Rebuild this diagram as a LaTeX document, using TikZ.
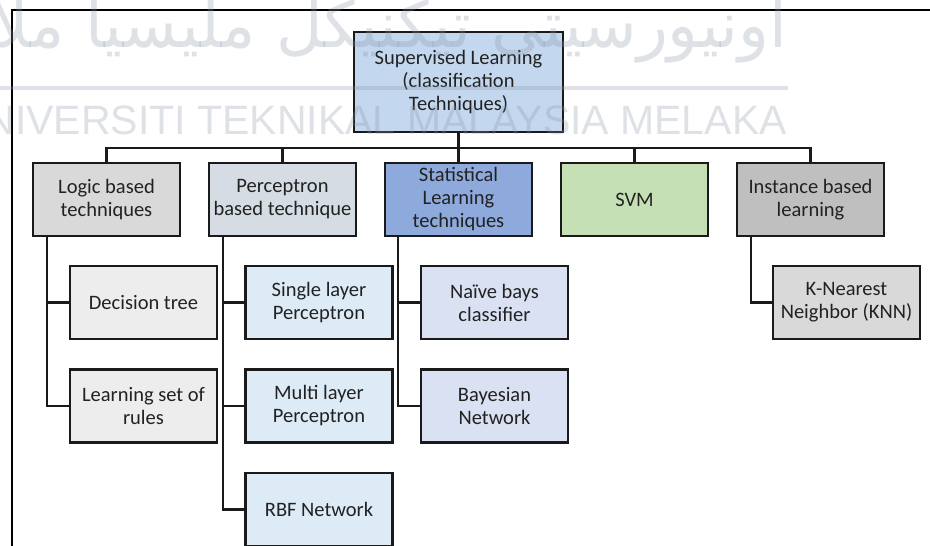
\documentclass[tikz,border=0pt]{standalone}
\usepackage{fontspec}
\setmainfont{Carlito}
\newfontfamily\arabicfont[Script=Arabic]{DejaVu Sans}
\newfontfamily\wmfont{Liberation Sans}
\TeXXeTstate=1
\usetikzlibrary{calc}
\definecolor{boxline}{HTML}{1A1A1A}
\definecolor{txt}{HTML}{222222}
\definecolor{rootfill}{HTML}{C3D7EE}
\definecolor{logicfill}{HTML}{D9D9D9}
\definecolor{percfill}{HTML}{D6DCE4}
\definecolor{statfill}{HTML}{8EA9DB}
\definecolor{svmfill}{HTML}{C5E0B4}
\definecolor{instfill}{HTML}{BFBFBF}
\definecolor{lgchild}{HTML}{EDEDED}
\definecolor{pcchild}{HTML}{DDEBF7}
\definecolor{stchild}{HTML}{D9E1F2}
\definecolor{knnfill}{HTML}{D9D9D9}
\definecolor{wmgray}{HTML}{8C94A8}
\begin{document}
\begin{tikzpicture}[x=1pt,y=-1pt,
  box/.style={draw=boxline, line width=2.4pt, minimum width=147pt, minimum height=73pt,
    inner sep=0pt, align=center, text=txt, font=\fontsize{20.5}{23}\selectfont},
  link/.style={draw=boxline, line width=2.4pt, line join=miter},
  wmtext/.style={text=wmgray, text opacity=0.28, inner sep=0pt},
  wmline/.style={draw=wmgray, draw opacity=0.28, line width=4pt}]
\useasboundingbox (0,0) rectangle (930,546);
\clip (0,0) rectangle (930,546);
\fill[white] (0,0) rectangle (930,546);
% frame
\draw[line width=1.3pt, black] (12,546) -- (12,10) -- (930,10);
% root
\node[box, fill=rootfill, minimum width=209pt, minimum height=100pt] (root) at (458.5,82)
  {Supervised Learning\\(classification\\Techniques)};
% level 1
\node[box, fill=logicfill] (logic) at (106.5,199.5) {Logic based\\techniques};
\node[box, fill=percfill]  (perc)  at (282.5,199.5) {Perceptron\\based technique};
\node[box, fill=statfill]  (stat)  at (458.5,199.5) {Statistical\\Learning\\techniques};
\node[box, fill=svmfill]   (svm)   at (634.5,199.5) {SVM};
\node[box, fill=instfill]  (inst)  at (810.5,199.5) {Instance based\\learning};
% level 2
\node[box, fill=lgchild] (dt)    at (143.5,302.5) {Decision tree};
\node[box, fill=lgchild] (learn) at (143.5,406)   {Learning set of\\rules};
\node[box, fill=pcchild] (slp)   at (319,302.5)   {Single layer\\Perceptron};
\node[box, fill=pcchild] (mlp)   at (319,406)     {Multi layer\\Perceptron};
\node[box, fill=pcchild] (rbf)   at (319,509.5)   {RBF Network};
\node[box, fill=stchild] (nb)    at (494.5,302.5) {Naïve bays\\classifier};
\node[box, fill=stchild] (bn)    at (494.5,406)   {Bayesian\\Network};
\node[box, fill=knnfill] (knn)   at (846.5,302.5) {K-Nearest\\Neighbor (KNN)};
% bus
\coordinate (bus) at (0,148);
\draw[link] (root.south) -- (root.south |- bus);
\draw[link] (logic.north) -- (logic.north |- bus) -- (inst.north |- bus) -- (inst.north);
\draw[link] (perc.north) -- (perc.north |- bus);
\draw[link] (stat.north) -- (stat.north |- bus);
\draw[link] (svm.north) -- (svm.north |- bus);
% trunks
\coordinate (tl) at ($(logic.south west)+(15,0)$);
\coordinate (tp) at ($(perc.south west)+(15,0)$);
\coordinate (ts) at ($(stat.south west)+(14,0)$);
\coordinate (ti) at ($(inst.south west)+(15,0)$);
\draw[link] (tl) |- (learn.west);
\draw[link] (dt.west) -- (dt.west -| tl);
\draw[link] (tp) |- (rbf.west);
\draw[link] (slp.west) -- (slp.west -| tp);
\draw[link] (mlp.west) -- (mlp.west -| tp);
\draw[link] (ts) |- (bn.west);
\draw[link] (nb.west) -- (nb.west -| ts);
\draw[link] (ti) |- (knn.west);
% watermark
\node[wmtext, anchor=base east, font=\arabicfont\fontsize{64}{64}\selectfont] (wmjawi) at (787,47)
  {\beginR اونيورسيتي تيكنيكل مليسيا ملاک\endR};
\draw[wmline] (0,88) -- (788,88);
\node[wmtext, anchor=base east, font=\wmfont\fontsize{41}{41}\selectfont] (wmlatin) at (787,134)
  {UNIVERSITI TEKNIKAL MALAYSIA MELAKA};
\end{tikzpicture}
\end{document}
